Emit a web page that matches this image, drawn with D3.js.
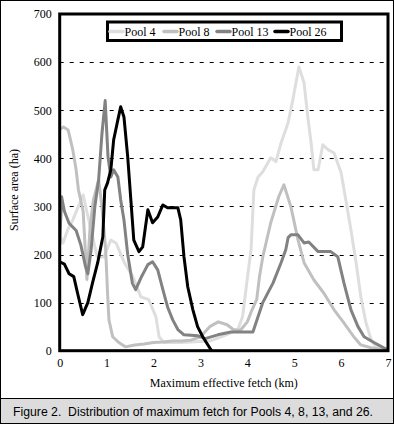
<!DOCTYPE html>
<html>
<head>
<meta charset="utf-8">
<script src="https://cdn.jsdelivr.net/npm/d3@7"></script>
<style>
html,body{margin:0;padding:0;background:#fff;}
svg{display:block;}
</style>
</head>
<body>
<svg id="chart" width="394" height="424"></svg>
<script>
// ---- data ----
const seriesNames = ["Pool 4", "Pool 8", "Pool 13", "Pool 26"];
const xTicks = [0, 1, 2, 3, 4, 5, 6, 7];
const yTicks = [0, 100, 200, 300, 400, 500, 600, 700];

const pool4X = [0, 0.07, 0.17, 0.28, 0.4, 0.5, 0.6, 0.8, 0.94, 1.09, 1.2, 1.38, 1.56, 1.73, 1.9, 2.05, 2.12, 2.22, 2.58, 3.0, 3.2, 3.4, 3.6, 3.8, 3.9, 4.0, 4.08, 4.14, 4.23, 4.33, 4.5, 4.61, 4.72, 4.87, 4.97, 5.1, 5.21, 5.29, 5.36, 5.42, 5.51, 5.61, 5.72, 5.85, 6.0, 6.1, 6.21, 6.32, 6.42, 6.53, 6.64, 6.74, 6.91, 7.0];
const pool4Y = [240, 224, 251, 272, 300, 324, 280, 195, 195, 230, 224, 183, 154, 112, 106, 71, 29, 17, 17, 19, 20, 27, 35, 44, 71, 150, 210, 334, 361, 372, 401, 393, 432, 474, 521, 590, 557, 486, 432, 376, 376, 428, 418, 411, 370, 314, 251, 183, 112, 58, 23, 8, 2, 0];

const pool8X = [0, 0.08, 0.18, 0.28, 0.35, 0.4, 0.5, 0.58, 0.65, 0.72, 0.83, 0.9, 0.98, 1.02, 1.05, 1.13, 1.26, 1.4, 1.6, 1.8, 2.0, 2.2, 2.4, 2.6, 2.8, 3.0, 3.2, 3.38, 3.57, 3.7, 3.85, 4.0, 4.08, 4.2, 4.26, 4.33, 4.5, 4.67, 4.78, 4.93, 5.08, 5.21, 5.42, 5.63, 5.85, 6.06, 6.27, 6.42, 6.64, 7.0];
const pool8Y = [460, 465, 459, 417, 376, 334, 290, 148, 260, 314, 355, 300, 210, 120, 64, 29, 17, 8, 12, 14, 17, 18, 20, 20, 22, 29, 50, 60, 54, 44, 42, 60, 80, 106, 154, 195, 266, 320, 345, 299, 231, 183, 147, 120, 85, 58, 29, 12, 6, 0];

const pool13X = [0, 0.04, 0.1, 0.2, 0.35, 0.45, 0.55, 0.6, 0.67, 0.75, 0.83, 0.9, 0.97, 1.03, 1.09, 1.15, 1.24, 1.3, 1.37, 1.45, 1.55, 1.62, 1.73, 1.88, 1.98, 2.09, 2.2, 2.3, 2.41, 2.52, 2.65, 2.95, 3.1, 3.37, 3.65, 4.12, 4.33, 4.55, 4.72, 4.82, 4.87, 4.93, 5.08, 5.21, 5.31, 5.51, 5.63, 5.78, 5.93, 6.06, 6.21, 6.36, 6.49, 6.7, 6.91, 7.0];
const pool13Y = [220, 320, 290, 265, 250, 220, 175, 160, 210, 300, 355, 450, 520, 403, 361, 376, 361, 314, 272, 200, 140, 127, 151, 179, 185, 168, 127, 91, 64, 44, 33, 31, 25, 33, 39, 39, 100, 141, 183, 210, 235, 241, 241, 224, 226, 206, 206, 206, 195, 141, 85, 50, 29, 17, 6, 2];

const pool26X = [0, 0.1, 0.2, 0.3, 0.38, 0.49, 0.6, 0.7, 0.81, 0.92, 0.96, 1.02, 1.09, 1.15, 1.24, 1.3, 1.37, 1.45, 1.58, 1.69, 1.77, 1.88, 1.98, 2.09, 2.2, 2.3, 2.52, 2.58, 2.65, 2.73, 2.84, 2.94, 3.05, 3.16, 3.24];
const pool26Y = [185, 180, 160, 154, 120, 75, 100, 141, 183, 237, 334, 349, 376, 438, 480, 507, 486, 403, 230, 206, 216, 293, 266, 278, 303, 297, 297, 272, 195, 133, 85, 50, 29, 12, 0];

const seriesColors = ["#dedede", "#c0c0c0", "#828282", "#000000"];

// ---- layout ----
const SERIF = "'Liberation Serif', 'Times New Roman', serif";
const SANS = "'Liberation Sans', Arial, sans-serif";
const svg = d3.select("#chart");
const W = 394, H = 424;
const pLeft = 59.7, pRight = 388, pTop = 14, pBottom = 350.7;

const x = d3.scaleLinear().domain([0, 7]).range([pLeft, pRight]);
const y = d3.scaleLinear().domain([0, 700]).range([pBottom, pTop]);

// outer border
svg.append("rect").attr("x", 0.5).attr("y", 0.5).attr("width", W - 1).attr("height", H - 1)
  .attr("fill", "#fff").attr("stroke", "#000").attr("stroke-width", 1);

// caption box
svg.append("rect").attr("x", 0.5).attr("y", 398.5).attr("width", W - 1).attr("height", H - 399)
  .attr("fill", "#dcdcdc").attr("stroke", "#000").attr("stroke-width", 1);
svg.append("text").attr("x", 13).attr("y", 415.5)
  .attr("font-family", SANS).attr("font-size", 12.5)
  .attr("textLength", 360).attr("lengthAdjust", "spacingAndGlyphs")
  .style("white-space", "pre").attr("fill", "#000")
  .text("Figure 2.  Distribution of maximum fetch for Pools 4, 8, 13, and 26.");

// gridlines
svg.append("g").selectAll("line").data(yTicks.filter(d => d > 0 && d < 700)).join("line")
  .attr("x1", pLeft).attr("x2", pRight)
  .attr("y1", d => Math.round(y(d)) + 0.5).attr("y2", d => Math.round(y(d)) + 0.5)
  .attr("stroke", "#000").attr("stroke-width", 1).attr("stroke-dasharray", "4,6");

// y axis labels
const yAxis = d3.axisLeft(y).tickValues(yTicks).tickSize(0).tickPadding(8);
const gy = svg.append("g").attr("transform", `translate(${pLeft},0)`).call(yAxis)
  .attr("font-family", SERIF).attr("font-size", 12);
gy.select(".domain").remove();
gy.selectAll("text").attr("fill", "#000");

// x axis labels
const xAxis = d3.axisBottom(x).tickValues(xTicks).tickSize(0).tickPadding(8).tickFormat(d3.format("d"));
const gx = svg.append("g").attr("transform", `translate(0,${pBottom})`).call(xAxis)
  .attr("font-family", SERIF).attr("font-size", 12);
gx.select(".domain").remove();
gx.selectAll("text").attr("fill", "#000");

// axis titles
svg.append("text").attr("x", (pLeft + pRight) / 2).attr("y", 387).attr("text-anchor", "middle")
  .attr("font-family", SERIF).attr("font-size", 12)
  .text("Maximum effective fetch (km)");
svg.append("text").attr("transform", `translate(18,190) rotate(-90)`).attr("text-anchor", "middle")
  .attr("font-family", SERIF).attr("font-size", 12)
  .text("Surface area (ha)");

// lines
const allX = [pool4X, pool8X, pool13X, pool26X];
const allY = [pool4Y, pool8Y, pool13Y, pool26Y];
const line = d3.line().x(d => x(d[0])).y(d => y(d[1])).curve(d3.curveLinear);
svg.append("clipPath").attr("id", "clip").append("rect")
  .attr("x", pLeft).attr("y", pTop).attr("width", pRight - pLeft).attr("height", pBottom - pTop);
const gl = svg.append("g").attr("clip-path", "url(#clip)");
seriesNames.forEach((name, i) => {
  const pts = allX[i].map((v, j) => [v, allY[i][j]]);
  gl.append("path").datum(pts).attr("d", line).attr("fill", "none")
    .attr("stroke", seriesColors[i]).attr("stroke-width", 3)
    .attr("stroke-linejoin", "round").attr("stroke-linecap", "round");
});

// plot frame
svg.append("rect").attr("x", pLeft).attr("y", pTop).attr("width", pRight - pLeft).attr("height", pBottom - pTop)
  .attr("fill", "none").attr("stroke", "#000").attr("stroke-width", 3);

// legend
const lg = svg.append("g");
lg.append("rect").attr("x", 107.5).attr("y", 22).attr("width", 234).attr("height", 18.5)
  .attr("fill", "#fff").attr("stroke", "#000").attr("stroke-width", 3);
const legX = [110, 164, 217, 275];
seriesNames.forEach((name, i) => {
  lg.append("line").attr("x1", legX[i]).attr("x2", legX[i] + 13).attr("y1", 31.5).attr("y2", 31.5)
    .attr("stroke", seriesColors[i]).attr("stroke-width", 3.5).attr("stroke-linecap", "round");
  lg.append("text").attr("x", legX[i] + 14.5).attr("y", 35.5)
    .attr("font-family", SERIF).attr("font-size", 12)
    .text(name);
});
</script>
</body>
</html>
